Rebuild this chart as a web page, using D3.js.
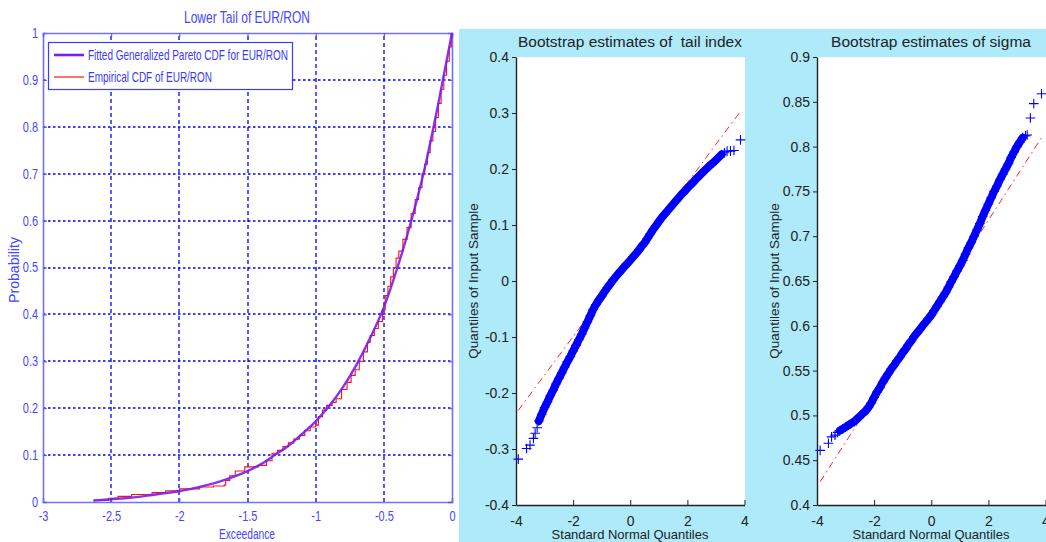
<!DOCTYPE html>
<html><head><meta charset="utf-8">
<script src="https://cdn.jsdelivr.net/npm/d3@7"></script>
<style>body{margin:0;background:#fff}svg{display:block}</style>
</head><body><svg id="c" width="1046" height="542"></svg>
<script>
// ---------- Left panel data: lower tail of EUR/RON ----------
const gpdX = [-2.63,-2.5,-2.4,-2.3,-2.2,-2.1,-2.0,-1.9,-1.8,-1.7,-1.6,-1.5,-1.4,-1.3,-1.2,-1.1,-1.0,-0.9,-0.8,-0.7,-0.6,-0.5,-0.4,-0.3,-0.2,-0.1,0];
const gpdP = [0.003,0.006,0.008,0.011,0.015,0.019,0.023,0.029,0.036,0.044,0.054,0.066,0.081,0.100,0.120,0.145,0.172,0.205,0.245,0.293,0.350,0.415,0.500,0.598,0.712,0.850,1.0];
const empX = [-2.63,-2.52,-2.45,-2.35,-2.2,-2.1,-2.0,-1.85,-1.75,-1.67,-1.66,-1.63,-1.59,-1.52,-1.42,-1.36,-1.32,-1.28,-1.24,-1.2,-1.16,-1.12,-1.08,-1.04,-1.0,-0.98,-0.95,-0.92,-0.88,-0.85,-0.81,-0.77,-0.74,-0.71,-0.68,-0.65,-0.62,-0.6,-0.57,-0.54,-0.51,-0.49,-0.47,-0.45,-0.43,-0.41,-0.39,-0.36,-0.33,-0.3,-0.27,-0.245,-0.22,-0.2,-0.18,-0.16,-0.14,-0.12,-0.1,-0.08,-0.06,-0.04,-0.02,-0.005];
const empP = [0.004,0.008,0.012,0.016,0.020,0.024,0.028,0.032,0.034,0.036,0.046,0.056,0.066,0.075,0.078,0.088,0.104,0.110,0.118,0.126,0.134,0.142,0.152,0.160,0.164,0.182,0.196,0.206,0.212,0.220,0.240,0.255,0.270,0.282,0.300,0.320,0.340,0.355,0.370,0.385,0.410,0.440,0.460,0.480,0.500,0.520,0.535,0.560,0.585,0.615,0.645,0.670,0.700,0.720,0.745,0.770,0.790,0.820,0.850,0.880,0.910,0.940,0.970,1.0];
const leftXTicks = [-3,-2.5,-2,-1.5,-1,-0.5,0];
const leftXTickLabels = ["-3","-2.5","-2","-1.5","-1","-0.5","0"];
const leftYTicks = [0,0.1,0.2,0.3,0.4,0.5,0.6,0.7,0.8,0.9,1];
const leftYTickLabels = ["0","0.1","0.2","0.3","0.4","0.5","0.6","0.7","0.8","0.9","1"];
const legendLabels = ["Fitted Generalized Pareto CDF for EUR/RON","Empirical CDF of EUR/RON"];

// ---------- QQ plots: bootstrap estimates ----------
const qqX = [-3.2,-3.1,-3.0,-2.9,-2.8,-2.7,-2.6,-2.5,-2.4,-2.3,-2.2,-2.1,-2.0,-1.9,-1.8,-1.7,-1.6,-1.5,-1.4,-1.3,-1.2,-1.1,-1.0,-0.9,-0.8,-0.7,-0.6,-0.5,-0.4,-0.3,-0.2,-0.1,0,0.1,0.2,0.3,0.4,0.5,0.6,0.7,0.8,0.9,1.0,1.1,1.2,1.3,1.4,1.5,1.6,1.7,1.8,1.9,2.0,2.1,2.2,2.3,2.4,2.5,2.6,2.7,2.8,2.9,3.0,3.1,3.2];
const tailQ = [-0.250,-0.238,-0.226,-0.216,-0.205,-0.195,-0.184,-0.174,-0.164,-0.154,-0.144,-0.135,-0.125,-0.115,-0.105,-0.095,-0.084,-0.073,-0.062,-0.051,-0.042,-0.034,-0.027,-0.019,-0.012,-0.005,0.002,0.008,0.014,0.020,0.026,0.031,0.037,0.043,0.049,0.055,0.062,0.068,0.076,0.084,0.092,0.099,0.106,0.113,0.119,0.125,0.131,0.137,0.143,0.149,0.155,0.160,0.166,0.171,0.176,0.182,0.187,0.192,0.197,0.202,0.207,0.211,0.216,0.221,0.226];
const tailTailX = [-3.92,-3.63,-3.51,-3.39,-3.33,-3.26,3.30,3.39,3.51,3.63,3.86];
const tailTailQ = [-0.318,-0.299,-0.293,-0.281,-0.272,-0.262,0.229,0.232,0.232,0.233,0.252];
const tailRefX = [-3.92,3.86];
const tailRefQ = [-0.231,0.303];

const sigmaQ = [0.483,0.485,0.487,0.489,0.491,0.493,0.496,0.499,0.502,0.505,0.509,0.514,0.520,0.526,0.531,0.537,0.542,0.547,0.552,0.556,0.561,0.565,0.570,0.574,0.579,0.583,0.588,0.592,0.596,0.600,0.604,0.608,0.612,0.617,0.622,0.627,0.632,0.637,0.643,0.649,0.655,0.661,0.667,0.673,0.680,0.687,0.693,0.700,0.707,0.714,0.722,0.729,0.736,0.743,0.750,0.756,0.763,0.769,0.775,0.781,0.788,0.794,0.800,0.805,0.810];
const sigmaTailX = [-3.89,-3.60,-3.49,-3.37,-3.28,3.30,3.36,3.47,3.59,3.86];
const sigmaTailQ = [0.461,0.469,0.476,0.478,0.481,0.812,0.813,0.832,0.848,0.859];
const sigmaRefX = [-3.89,3.86];
const sigmaRefQ = [0.426,0.810];

const qqXTicks = [-4,-2,0,2,4];
const qqXTickLabels = ["-4","-2","0","2","4"];
const tailYTicks = [-0.4,-0.3,-0.2,-0.1,0,0.1,0.2,0.3,0.4];
const tailYTickLabels = ["-0.4","-0.3","-0.2","-0.1","0","0.1","0.2","0.3","0.4"];
const sigmaYTicks = [0.4,0.45,0.5,0.55,0.6,0.65,0.7,0.75,0.8,0.85,0.9];
const sigmaYTickLabels = ["0.4","0.45","0.5","0.55","0.6","0.65","0.7","0.75","0.8","0.85","0.9"];

// ---------- drawing ----------
const svg = d3.select("#c");
const LFONT = "'Liberation Sans',Arial,sans-serif";
const SANS = "'Liberation Sans',Arial,sans-serif";
const TXT = "#4646ff";
// squeeze text horizontally to imitate a narrow face
function squeeze(sel, ratio, fixed){
  sel.each(function(){
    const w = this.getComputedTextLength();
    d3.select(this).attr("textLength", fixed || w*ratio).attr("lengthAdjust","spacingAndGlyphs");
  });
}
const px = v => Math.round(v);

// LEFT PANEL
(function(){
  const x = d3.scaleLinear().domain([-3,0]).range([43,452]);
  const y = d3.scaleLinear().domain([0,1]).range([502,33]);
  const g = svg.append("g");
  // grid
  g.selectAll(".vg").data(leftXTicks.slice(1,-1)).join("line")
    .attr("x1",d=>px(x(d))).attr("x2",d=>px(x(d))).attr("y1",y(0)).attr("y2",y(1))
    .attr("stroke","#0000ff").attr("stroke-width",1.3).attr("stroke-dasharray","4,3");
  g.selectAll(".hg").data(leftYTicks.slice(1,-1)).join("line")
    .attr("y1",d=>px(y(d))).attr("y2",d=>px(y(d))).attr("x1",x(-3)).attr("x2",x(0))
    .attr("stroke","#0000ff").attr("stroke-width",1.3).attr("stroke-dasharray","2.5,2.5");
  // axes
  const ax = g.append("g").attr("transform",`translate(0,${y(0)})`)
    .call(d3.axisBottom(x).tickValues(leftXTicks).tickFormat((d,i)=>leftXTickLabels[i]).tickSize(-4).tickPadding(9));
  const ay = g.append("g").attr("transform",`translate(${x(-3)},0)`)
    .call(d3.axisLeft(y).tickValues(leftYTicks).tickFormat((d,i)=>leftYTickLabels[i]).tickSize(-4).tickPadding(5));
  const ar = g.append("g").attr("transform",`translate(${x(0)},0)`)
    .call(d3.axisRight(y).tickValues(leftYTicks).tickFormat("").tickSize(-4));
  const at = g.append("g").attr("transform",`translate(0,${y(1)})`)
    .call(d3.axisTop(x).tickValues(leftXTicks).tickFormat("").tickSize(-4));
  [ax,ay,ar,at].forEach(a=>{
    a.select(".domain").attr("stroke","#7070ff").attr("stroke-width",1.6);
    a.selectAll(".tick line").attr("stroke","#5050ff");
    a.selectAll("text").attr("fill",TXT).style("font-family",LFONT).style("font-size","14px");
  });
  squeeze(ax.selectAll("text"),0.78);
  squeeze(ay.selectAll("text"),0.78);
  // curves
  const lineE = d3.line().x((d,i)=>x(empX[i])).y((d,i)=>y(empP[i])).curve(d3.curveStepAfter);
  g.append("path").datum(empX).attr("d",lineE).attr("fill","none").attr("stroke","#ff1010").attr("stroke-width",1.1);
  const lineG = d3.line().x((d,i)=>x(gpdX[i])).y((d,i)=>y(gpdP[i])).curve(d3.curveMonotoneX);
  g.append("path").datum(gpdX).attr("d",lineG).attr("fill","none").attr("stroke","#7a1cf2").attr("stroke-width",2.4).attr("opacity",0.9);
  // title & labels
  const t1 = g.append("text").attr("x",247).attr("y",23).attr("text-anchor","middle").attr("fill",TXT)
    .style("font-family",LFONT).style("font-size","17px").text("Lower Tail of EUR/RON");
  squeeze(t1,0,126);
  const t2 = g.append("text").attr("x",247).attr("y",539).attr("text-anchor","middle").attr("fill",TXT)
    .style("font-family",LFONT).style("font-size","15px").text("Exceedance");
  squeeze(t2,0,56);
  const t3 = g.append("text").attr("transform","translate(19,270) rotate(-90)").attr("text-anchor","middle").attr("fill",TXT)
    .style("font-family",LFONT).style("font-size","14px").text("Probability");
  squeeze(t3,0,66);
  // legend
  const lg = g.append("g");
  lg.append("rect").attr("x",48.5).attr("y",42.5).attr("width",244).attr("height",47)
    .attr("fill","#fff").attr("stroke","#3c3cff").attr("stroke-width",1.2);
  const cols = ["#7a1cf2","#ff1010"], widths=[2.6,1.2], lens=[200,124];
  legendLabels.forEach((t,i)=>{
    const yy = 55 + i*22;
    lg.append("line").attr("x1",54).attr("x2",84).attr("y1",yy).attr("y2",yy).attr("stroke",cols[i]).attr("stroke-width",widths[i]);
    const tt = lg.append("text").attr("x",88).attr("y",yy+5).attr("fill","#3a3aff")
      .style("font-family",LFONT).style("font-size","14.5px").text(t);
    squeeze(tt,0,lens[i]);
  });
})();

// QQ PANELS
svg.append("rect").attr("x",459).attr("y",29).attr("width",1046-459).attr("height",542-29).attr("fill","#aeeaf9");

function qqPanel(opt){
  const x = d3.scaleLinear().domain([-4,4]).range([opt.x0,opt.x0+228.5]);
  const y = d3.scaleLinear().domain(opt.ydom).range([505,57]);
  const g = svg.append("g");
  g.append("rect").attr("x",opt.x0).attr("y",57).attr("width",opt.w).attr("height",448).attr("fill","#fff");
  // reference line (drawn under the markers)
  g.append("line").attr("x1",x(opt.refX[0])).attr("y1",y(opt.refQ[0])).attr("x2",x(opt.refX[1])).attr("y2",y(opt.refQ[1]))
    .attr("stroke","#ff2020").attr("stroke-width",1).attr("stroke-dasharray","7,4,1.5,4");
  // dense band of markers
  const band = d3.line().x((d,i)=>x(qqX[i])).y((d,i)=>y(opt.q[i]));
  g.append("path").datum(qqX).attr("d",band).attr("fill","none").attr("stroke","#0000ff").attr("stroke-width",8).attr("stroke-linecap","round");
  const pts = qqX.map((d,i)=>[d,opt.q[i]]).concat(opt.tx.map((d,i)=>[d,opt.tq[i]]));
  const s = 4.8;
  g.selectAll(".m").data(pts).join("path")
    .attr("d",d=>{const cx=x(d[0]),cy=y(d[1]);return `M${cx-s},${cy}H${cx+s}M${cx},${cy-s}V${cy+s}`;})
    .attr("stroke","#0000ff").attr("stroke-width",1.1).attr("fill","none");
  // axes
  const ax = g.append("g").attr("transform",`translate(0,505)`)
    .call(d3.axisBottom(x).tickValues(qqXTicks).tickFormat((d,i)=>qqXTickLabels[i]).tickSize(-5).tickPadding(8).tickSizeOuter(0));
  const ay = g.append("g").attr("transform",`translate(${opt.x0},0)`)
    .call(d3.axisLeft(y).tickValues(opt.yt).tickFormat((d,i)=>opt.ytl[i]).tickSize(4).tickPadding(3).tickSizeOuter(0));
  [ax,ay].forEach(a=>{
    a.select(".domain").attr("stroke","#222").attr("stroke-width",1.4);
    a.selectAll(".tick line").attr("stroke","#222");
    a.selectAll("text").attr("fill","#222").style("font-family",SANS).style("font-size","14px");
  });
  ax.selectAll("text").attr("dy","0.9em");
  g.append("text").attr("x",opt.x0+114).attr("y",47).attr("text-anchor","middle").attr("fill","#222")
    .style("font-family",SANS).style("font-size","15.5px").style("white-space","pre").text(opt.title);
  g.append("text").attr("x",opt.x0+114).attr("y",539).attr("text-anchor","middle").attr("fill","#222")
    .style("font-family",SANS).style("font-size","13px").text("Standard Normal Quantiles");
  g.append("text").attr("transform",`translate(${opt.x0-38},281) rotate(-90)`).attr("text-anchor","middle").attr("fill","#222")
    .style("font-family",SANS).style("font-size","13.5px").text("Quantiles of Input Sample");
}
qqPanel({x0:516,w:229,ydom:[-0.4,0.4],q:tailQ,tx:tailTailX,tq:tailTailQ,refX:tailRefX,refQ:tailRefQ,
  yt:tailYTicks,ytl:tailYTickLabels,title:"Bootstrap estimates of\u00a0 tail index"});
qqPanel({x0:817,w:229,ydom:[0.4,0.9],q:sigmaQ,tx:sigmaTailX,tq:sigmaTailQ,refX:sigmaRefX,refQ:sigmaRefQ,
  yt:sigmaYTicks,ytl:sigmaYTickLabels,title:"Bootstrap estimates of sigma"});
</script></body></html>
